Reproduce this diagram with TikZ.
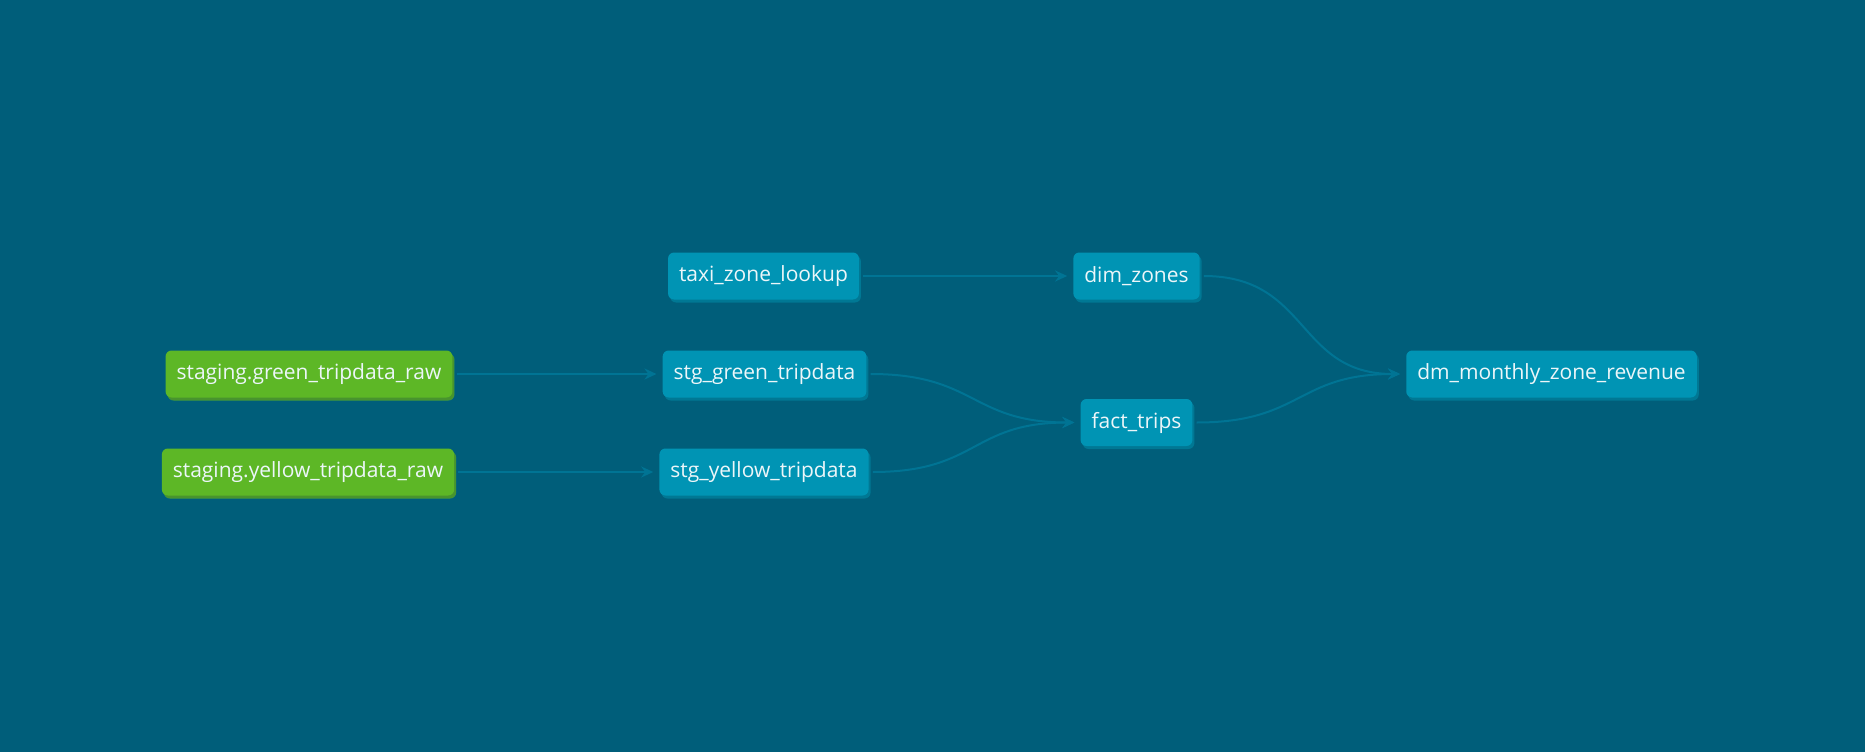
\documentclass[tikz,border=0pt]{standalone}
\usepackage{fontspec}
\setmainfont{Open Sans}
\usetikzlibrary{arrows.meta}
\usetikzlibrary{shadows}

\definecolor{bgcol}{RGB}{0,94,122}
\definecolor{modelcol}{RGB}{0,148,180}
\definecolor{modelshade}{RGB}{0,120,148}
\definecolor{sourcecol}{RGB}{93,183,38}
\definecolor{sourceshade}{RGB}{72,148,46}
\definecolor{edgecol}{RGB}{0,116,148}
\definecolor{labelcol}{RGB}{236,246,249}

\tikzset{
    model/.style={fill=modelcol, rounded corners=6pt, minimum height=47pt, inner xsep=11pt,
        text=labelcol, font=\fontsize{21}{24}\selectfont,
        general shadow={fill=modelshade, shadow xshift=2pt, shadow yshift=-3pt}},
    source/.style={model, fill=sourcecol,
        general shadow={fill=sourceshade, shadow xshift=2pt, shadow yshift=-3pt}},
    edge/.style={draw=edgecol, line width=2pt, shorten <=4pt, shorten >=6pt,
        -{Stealth[length=12pt, width=11pt, inset=4pt]}}
}

\begin{document}
\begin{tikzpicture}[x=1pt, y=-1pt]
        % Background and page size
        \fill[bgcol] (0,0) rectangle (1865,752);
        \useasboundingbox (0,0) rectangle (1865,752);

        % Sources on the left
        \node[source] (sgreenraw) at (309,374) {staging.green\_tripdata\_raw};
        \node[source] (syellowraw) at (308,472) {staging.yellow\_tripdata\_raw};

        % Staging models and lookup
        \node[model] (zonelookup) at (763.5,276) {taxi\_zone\_lookup};
        \node[model] (stggreen) at (764.5,374) {stg\_green\_tripdata};
        \node[model] (stgyellow) at (764,472) {stg\_yellow\_tripdata};

        % Core models
        \node[model] (dimzones) at (1136.5,276) {dim\_zones};
        \node[model] (facttrips) at (1136.5,422.5) {fact\_trips};

        % Mart on the right
        \node[model] (dmrevenue) at (1551.5,374) {dm\_monthly\_zone\_revenue};

        % Straight links
        \draw[edge] (sgreenraw.east) -- (stggreen.west);
        \draw[edge] (syellowraw.east) -- (stgyellow.west);
        \draw[edge] (zonelookup.east) -- (dimzones.west);

        % Curved links into fact_trips and the mart
        \draw[edge] (stggreen.east) .. controls +(110,0) and +(-110,0) .. (facttrips.west);
        \draw[edge] (stgyellow.east) .. controls +(110,0) and +(-110,0) .. (facttrips.west);
        \draw[edge] (dimzones.east) .. controls +(110,0) and +(-110,0) .. (dmrevenue.west);
        \draw[edge] (facttrips.east) .. controls +(110,0) and +(-110,0) .. (dmrevenue.west);
\end{tikzpicture}
\end{document}
